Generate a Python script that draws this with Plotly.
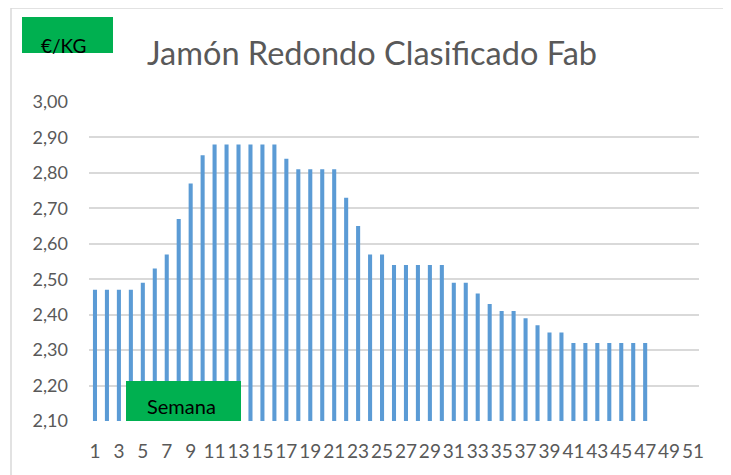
import plotly.graph_objects as go

weeks = list(range(1, 48))
prices = [2.47, 2.47, 2.47, 2.47, 2.49, 2.53, 2.57, 2.67, 2.77, 2.85,
          2.88, 2.88, 2.88, 2.88, 2.88, 2.88, 2.84, 2.81, 2.81, 2.81,
          2.81, 2.73, 2.65, 2.57, 2.57, 2.54, 2.54, 2.54, 2.54, 2.54,
          2.49, 2.49, 2.46, 2.43, 2.41, 2.41, 2.39, 2.37, 2.35, 2.35,
          2.32, 2.32, 2.32, 2.32, 2.32, 2.32, 2.32]
x_ticks = list(range(1, 52, 2))
x_ticktext = [str(v) for v in x_ticks]
y_ticks = [2.1, 2.2, 2.3, 2.4, 2.5, 2.6, 2.7, 2.8, 2.9, 3.0]

title = "Jamón Redondo Clasificado Fab"
unit_label = "€/KG"
x_label = "Semana"

# page body has an 8px margin; work in screen pixels and shift
OFF = 8
W, H = 731, 475
PL, PR, PT, PB = 89, 699, 102, 421          # plot area in screen px
L, T = PL - OFF, PT - OFF
R, B = W - (PR - OFF), H - (PB - OFF)
pw, ph = PR - PL, PB - PT

def px(x):
    return (x - PL) / pw

def py(y):
    return (PB - y) / ph

FONT = "Lato, 'Open Sans', sans-serif"
GREY = "#595959"
GREEN = "#00B050"

fig = go.Figure(go.Bar(x=weeks, y=prices, marker_color="#5B9BD5",
                       marker_line_width=0))

fig.update_layout(
    width=W, height=H,
    margin=dict(l=L, r=R, t=T, b=B),
    paper_bgcolor="white", plot_bgcolor="white",
    separators=",.",
    bargap=0.66,
    showlegend=False,
    font=dict(family=FONT, color=GREY),
    xaxis=dict(range=[0.5, 51.5], tickmode="array", tickvals=x_ticks,
               ticktext=x_ticktext, showgrid=False, zeroline=False,
               ticks="", tickangle=0, tickfont=dict(size=19, color=GREY),
               ticklabelstandoff=17, showline=False),
    yaxis=dict(range=[2.1, 3.0], tickmode="array", tickvals=y_ticks,
               tickformat=".2f", showgrid=True, gridcolor="#D9D9D9",
               gridwidth=1.5, zeroline=False, ticks="",
               tickfont=dict(size=18, color=GREY), ticklabelstandoff=20),
    shapes=[
        dict(type="rect", xref="paper", yref="paper",
             x0=px(11), x1=px(730), y0=py(8), y1=py(490),
             line=dict(color="#D9D9D9", width=1.5), fillcolor="rgba(0,0,0,0)",
             layer="below"),
        dict(type="rect", xref="paper", yref="paper",
             x0=px(22), x1=px(113), y0=py(53), y1=py(17),
             line_width=0, fillcolor=GREEN, layer="above"),
        dict(type="rect", xref="paper", yref="paper",
             x0=px(126), x1=px(241), y0=py(421), y1=py(381),
             line_width=0, fillcolor=GREEN, layer="above"),
    ],
    annotations=[
        dict(text=title, xref="paper", yref="paper", x=px(372), y=py(52),
             showarrow=False, xanchor="center", yanchor="middle",
             font=dict(size=32.5, color=GREY, family=FONT)),
        dict(text=unit_label, xref="paper", yref="paper", x=px(63), y=py(45),
             showarrow=False, xanchor="center", yanchor="middle",
             font=dict(size=19, color="black", family=FONT)),
        dict(text=x_label, xref="paper", yref="paper", x=px(181), y=py(406),
             showarrow=False, xanchor="center", yanchor="middle",
             font=dict(size=20, color="black", family=FONT)),
    ],
)

fig.write_html("out.html")
